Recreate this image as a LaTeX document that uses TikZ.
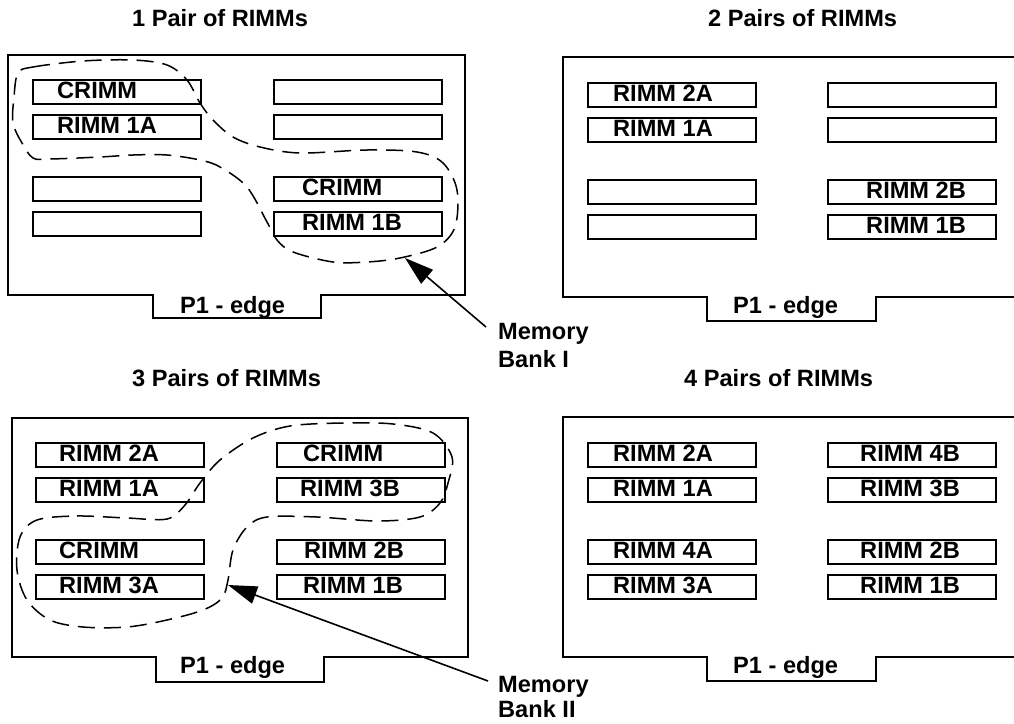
\documentclass[tikz,border=0pt]{standalone}
\usepackage{fontspec}
\setmainfont{Liberation Sans}
\usetikzlibrary{arrows.meta}
\tikzset{
  board/.style={line width=1.8pt, line join=miter},
  slot/.style={draw, line width=1.6pt, minimum width=168pt, minimum height=24pt, inner sep=0pt, anchor=north west},
  lbl/.style={font=\bfseries\fontsize{23.6}{27}\selectfont, inner sep=0pt, anchor=base west},
  grp/.style={line width=1.5pt, dash pattern=on 17pt off 9pt},
  ptr/.style={line width=1.6pt, -{Triangle[length=29pt,width=18pt]}},
}
\newcommand\slotbox[5]{%
  \node[slot] (#1) at (#2,#3) {};
  \node[lbl] (#1t) at (#5,#3+19) {#4};}
\newcommand\emptyslot[3]{\node[slot] (#1) at (#2,#3) {};}
\begin{document}
\begin{tikzpicture}[x=1pt,y=-1pt]
\useasboundingbox (0,0) rectangle (1014,723);
% titles
\node[lbl] (t1) at (132,26) {1 Pair of RIMMs};
\node[lbl] (t2) at (708,26) {2 Pairs of RIMMs};
\node[lbl] (t3) at (132,386) {3 Pairs of RIMMs};
\node[lbl] (t4) at (684,386) {4 Pairs of RIMMs};
% boards
\draw[board] (8,55) -- (465,55) -- (465,295) -- (321,295) -- (321,318) -- (153,318) -- (153,295) -- (8,295) -- cycle;
\draw[board] (1016,57) -- (563,57) -- (563,297) -- (707,297) -- (707,321) -- (876,321) -- (876,297) -- (1016,297);
\draw[board] (12,418) -- (468,418) -- (468,657) -- (324,657) -- (324,682) -- (156,682) -- (156,657) -- (12,657) -- cycle;
\draw[board] (1016,417) -- (563,417) -- (563,657) -- (707,657) -- (707,681) -- (876,681) -- (876,657) -- (1016,657);
\node[lbl] (e1) at (180,313) {P1 - edge};
\node[lbl] (e2) at (733,313) {P1 - edge};
\node[lbl] (e3) at (180,673) {P1 - edge};
\node[lbl] (e4) at (733,673) {P1 - edge};
% panel 1
\slotbox{a1}{32}{79}{CRIMM}{57}
\slotbox{a2}{32}{114}{RIMM 1A}{57}
\emptyslot{a3}{32}{176}
\emptyslot{a4}{32}{211}
\emptyslot{a5}{273}{79}
\emptyslot{a6}{273}{114}
\slotbox{a7}{273}{176}{CRIMM}{302}
\slotbox{a8}{273}{211}{RIMM 1B}{302}
% panel 2
\slotbox{b1}{587}{82}{RIMM 2A}{613}
\slotbox{b2}{587}{117}{RIMM 1A}{613}
\emptyslot{b3}{587}{179}
\emptyslot{b4}{587}{214}
\emptyslot{b5}{827}{82}
\emptyslot{b6}{827}{117}
\slotbox{b7}{827}{179}{RIMM 2B}{866}
\slotbox{b8}{827}{214}{RIMM 1B}{866}
% panel 3
\slotbox{c1}{35}{442}{RIMM 2A}{59}
\slotbox{c2}{35}{477}{RIMM 1A}{59}
\slotbox{c3}{35}{539}{CRIMM}{59}
\slotbox{c4}{35}{574}{RIMM 3A}{59}
\slotbox{c5}{276}{442}{CRIMM}{303}
\slotbox{c6}{276}{477}{RIMM 3B}{300}
\slotbox{c7}{276}{539}{RIMM 2B}{304}
\slotbox{c8}{276}{574}{RIMM 1B}{303}
% panel 4
\slotbox{d1}{587}{442}{RIMM 2A}{613}
\slotbox{d2}{587}{477}{RIMM 1A}{613}
\slotbox{d3}{587}{539}{RIMM 4A}{613}
\slotbox{d4}{587}{574}{RIMM 3A}{613}
\slotbox{d5}{827}{442}{RIMM 4B}{860}
\slotbox{d6}{827}{477}{RIMM 3B}{860}
\slotbox{d7}{827}{539}{RIMM 2B}{860}
\slotbox{d8}{827}{574}{RIMM 1B}{860}
% memory bank groups
\draw[grp] plot[smooth cycle, tension=0.55] coordinates {
 (18,73) (33,67) (83,61) (133,60) (167,65) (187,80) (200,103) (213,120) (233,137) (260,147)
 (300,153) (367,150) (417,152) (443,163) (457,190) (455,227) (437,247) (400,258) (367,262)
 (333,262) (293,252) (277,240) (267,222) (247,187) (220,167) (200,160) (167,155) (133,155)
 (100,157) (50,159) (33,158) (22,143) (13,123) (14,97)};
\draw[grp] plot[smooth cycle, tension=0.55] coordinates {
 (37,520) (77,516) (127,518) (167,519) (185,505) (200,483) (220,460) (253,438) (290,426)
 (343,423) (393,424) (433,433) (452,457) (448,483) (440,503) (420,517) (377,521) (317,517)
 (267,517) (247,527) (233,550) (228,580) (222,598) (203,610) (167,620) (127,627) (83,627)
 (50,620) (27,600) (17,570) (20,537)};
% labels and pointers
\node[lbl, align=left] (m1) at (498,367) {Memory\\[1pt]Bank I};
\node[lbl, align=left] (m2) at (498,717) {Memory\\[-2pt]Bank II};
\coordinate (tailI) at (486,327);
\coordinate (tipI) at (405,258);
\coordinate (tailII) at (488,681);
\coordinate (tipII) at (228,585);
\draw[ptr] (tailI) -- (tipI);
\draw[ptr] (tailII) -- (tipII);
\end{tikzpicture}
\end{document}
